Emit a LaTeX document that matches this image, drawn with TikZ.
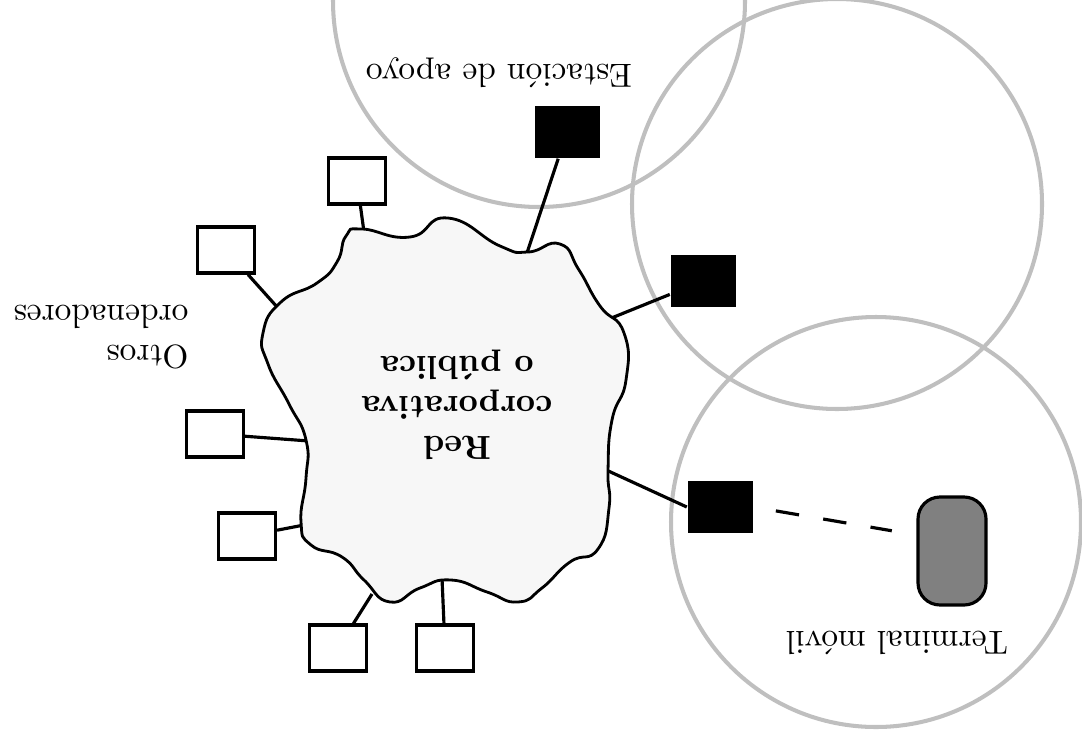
\documentclass[tikz,border=0pt]{standalone}
\usetikzlibrary{arrows}

\begin{document}
\begin{tikzpicture}[x=0.1mm,y=-0.1mm,
    cell/.style={draw=black!25,line width=1.15pt},
    pc/.style={draw,line width=0.9pt,minimum width=5.7mm,minimum height=4.6mm,inner sep=0pt},
    ap/.style={fill=black,minimum width=6.5mm,minimum height=5.2mm,inner sep=0pt},
    lnk/.style={line width=0.9pt},
    lbl/.style={rotate=180,align=center,font=\fontsize{9.5}{11.4}\selectfont}]

    \useasboundingbox (0,0) rectangle (1082,741);

    % radio cells
    \draw[cell] (539,1) circle[radius=20.6mm];
    \draw[cell] (837,204) circle[radius=20.5mm];
    \draw[cell] (876,522) circle[radius=20.5mm];

    % hosts and access points
    \node[pc] (pc1) at (357,181) {};
    \node[pc] (pc2) at (226,250) {};
    \node[pc] (pc3) at (215,434) {};
    \node[pc] (pc4) at (247,536) {};
    \node[pc] (pc5) at (338,648) {};
    \node[pc] (pc6) at (445,648) {};

    \node[ap] (ap1) at (567,132) {};
    \node[ap] (ap2) at (703,281) {};
    \node[ap] (ap3) at (720,507) {};

    \node[draw,fill=black!50,line width=0.9pt,rounded corners=2.2mm,
          minimum width=6.8mm,minimum height=10.8mm] (mt) at (952,551) {};

    % where the links meet the network
    \coordinate (e1) at (364,232);
    \coordinate (e2) at (278,308);
    \coordinate (e3) at (309,441);
    \coordinate (e4) at (304,525);
    \coordinate (e5) at (372,594);
    \coordinate (e6) at (442,578);
    \coordinate (e7) at (526,256);
    \coordinate (e8) at (609,319);
    \coordinate (e9) at (604,469);

    \draw[lnk] (pc1) -- (e1);
    \draw[lnk] (pc2) -- (e2);
    \draw[lnk] (pc3) -- (e3);
    \draw[lnk] (pc4) -- (e4);
    \draw[lnk] (pc5) -- (e5);
    \draw[lnk] (pc6) -- (e6);
    \draw[lnk] (ap1) -- (e7);
    \draw[lnk] (ap2) -- (e8);
    \draw[lnk] (ap3.west) -- (e9);

    % the network itself
    \draw[line width=0.8pt,fill=black!3] plot[smooth cycle,tension=0.9] coordinates {
        (448,218) (500,246) (528,252) (560,244) (579,270) (600,306) (624,333)
        (626,380) (612,420) (608,470) (609,508) (598,549) (570,562) (542,588)
        (518,602) (487,592) (451,580) (420,588) (390,602) (364,580) (342,557)
        (311,545) (301,522) (306,478) (306,440) (289,404) (268,364) (263,333)
        (281,302) (317,283) (337,262) (346,236) (362,229) (410,237)};
    \node[lbl,font=\fontsize{9.5}{11.4}\selectfont\bfseries] (net) at (457,405)
        {Red\\corporativa\\o pública};

    % radio link
    \draw[lnk,dash pattern=on 2.35mm off 2.45mm,shorten <=2.3mm,shorten >=2.5mm]
        (ap3.east) -- ([yshift=1.6mm]mt.west);

    \node[lbl,align=left] (otros) at (101,337) {Otros\\ordenadores};
    \node[lbl] (apoyo) at (499,73) {Estación de apoyo};
    \node[lbl] (movil) at (897,643) {Terminal móvil};
\end{tikzpicture}
\end{document}
